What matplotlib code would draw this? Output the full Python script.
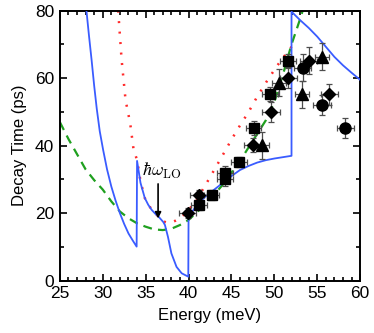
import numpy as np
import matplotlib
matplotlib.use("Agg")
import matplotlib.pyplot as plt
from matplotlib.ticker import MultipleLocator

plt.rcParams['font.family'] = ['Liberation Sans', 'DejaVu Sans']
plt.rcParams['mathtext.fontset'] = 'cm'

# blue theory curve (with jumps at 34, 40 and 52 meV)
blue_e = [28.1, 28.4, 28.7, 29.0, 29.3, 29.65, 30.05, 30.5, 31.0, 31.5, 32.0, 32.5, 33.0, 33.5, 33.95,
          34.0, 34.4, 34.9, 35.3, 35.7, 36.1, 36.5, 37.05, 37.25, 37.6, 38.0, 38.6, 39.2, 39.97,
          40.0, 40.3, 41.0, 42.0, 43.0, 44.0, 45.0, 46.0, 47.0, 48.0, 49.0, 50.0, 51.0, 52.0,
          52.0, 53.0, 54.0, 55.0, 56.0, 57.0, 58.0, 59.0, 60.0]
blue_t = [80.0, 72.5, 65.4, 57.8, 51.0, 44.3, 38.7, 33.0, 27.9, 23.7, 20.0, 16.8, 14.0, 11.9, 10.1,
          35.5, 29.0, 24.5, 22.5, 21.0, 19.9, 19.0, 17.4, 16.5, 13.0, 8.1, 4.1, 2.2, 1.2,
          18.5, 20.0, 22.5, 25.0, 27.0, 29.0, 31.0, 32.8, 34.0, 35.0, 35.7, 36.2, 36.6, 37.0,
          79.7, 77.2, 74.9, 72.3, 69.3, 66.3, 63.8, 61.6, 59.5]

# red dotted curve
red_e = [31.8, 32.2, 32.66, 33.2, 33.6, 34.0, 34.4, 34.9, 35.7, 36.5, 37.05, 37.5, 38.0,
         38.5, 39.1, 39.8, 40.55, 41.3, 42.1, 43.1, 44.05, 45.0, 45.9, 47.0, 47.95, 49.1,
         50.3, 51.6, 52.0]
red_t = [80.0, 65.4, 53.5, 46.6, 38.7, 35.8, 29.5, 24.5, 21.0, 19.0, 17.6, 17.2, 17.3,
         17.8, 18.6, 20.5, 22.5, 25.5, 28.9, 33.3, 37.5, 41.8, 45.6, 50.0, 54.3, 59.0,
         63.6, 68.0, 69.3]

# green dashed curve
green_e = [25, 26, 27, 28, 29, 30, 31, 32, 33, 34, 35, 36, 37, 38, 39, 40, 41, 42, 43,
           44, 45, 46, 47, 48, 49, 50, 51, 52, 53, 53.3]
green_t = [47.0, 42.0, 37.5, 33.0, 29.8, 27.0, 23.5, 20.5, 18.5, 17.0, 16.0, 15.2, 15.0,
           15.4, 16.5, 18.0, 20.3, 23.0, 25.5, 28.5, 32.0, 35.5, 39.5, 43.5, 47.5, 53.0,
           61.0, 70.0, 77.5, 80.0]

# measured points
sq_e = [41.2, 42.7, 44.25, 44.25, 45.9, 47.6, 49.5, 51.6]
sq_t = [22.4, 25.4, 30.0, 32.0, 35.1, 45.2, 55.3, 65.2]
sq_yerr = [1.5, 1.5, 2.0, 2.0, 1.5, 2.0, 2.0, 2.0]

di_e = [39.9, 41.2, 47.5, 49.6, 51.6, 54.0, 56.4]
di_t = [20.1, 25.5, 40.2, 50.0, 60.1, 65.2, 55.2]
di_yerr = [1.5, 1.5, 2.0, 3.0, 3.0, 4.0, 3.0]

tr_e = [48.6, 50.55, 53.2, 55.55]
tr_t = [40.2, 58.6, 55.3, 66.4]
tr_yerr = [4.0, 4.0, 4.0, 4.0]

ci_e = [53.3, 55.55, 58.25]
ci_t = [63.1, 52.1, 45.2]
ci_yerr = [4.0, 3.0, 3.0]

fig = plt.figure(figsize=(3.74, 3.33), dpi=100)
ax = fig.add_axes([0.160, 0.157, 0.803, 0.811])

ax.plot(green_e, green_t, color='#1fa01f', lw=1.6, ls=(0, (4, 2.8)), zorder=2)
ax.plot(red_e, red_t, color='#ff2a2a', lw=1.8, ls=(0, (0.8, 3.4)), zorder=2)
ax.plot(blue_e, blue_t, color='#3a5cff', lw=1.3, zorder=3)

ebar = dict(ecolor='0.3', elinewidth=0.9, capsize=2.5, capthick=0.9, ls='none',
            mfc='black', mec='black', zorder=4)
ax.errorbar(sq_e, sq_t, xerr=0.9, yerr=sq_yerr, marker='s', ms=7, **ebar)
ax.errorbar(di_e, di_t, xerr=1.0, yerr=di_yerr, marker='D', ms=6.5, **ebar)
ax.errorbar(tr_e, tr_t, xerr=0.8, yerr=tr_yerr, marker='^', ms=8.5, **ebar)
ax.errorbar(ci_e, ci_t, xerr=1.0, yerr=ci_yerr, marker='o', ms=8, **ebar)

ax.annotate('', xy=(36.45, 17.6), xytext=(36.45, 29.5),
            arrowprops=dict(arrowstyle='-|>', color='black', lw=1.2, mutation_scale=9))
ax.text(36.9, 32.5, r'$\hbar\omega_{\mathrm{LO}}$', fontsize=13, ha='center', va='center')

ax.set_xlim(25, 60)
ax.set_ylim(0, 80)
ax.xaxis.set_major_locator(MultipleLocator(5))
ax.xaxis.set_minor_locator(MultipleLocator(1))
ax.yaxis.set_major_locator(MultipleLocator(20))
ax.yaxis.set_minor_locator(MultipleLocator(10))
ax.tick_params(which='both', direction='in', top=True, right=True, width=1.2,
               labelsize=12.5, pad=4)
ax.tick_params(which='major', length=5)
ax.tick_params(which='minor', length=3)
for s in ax.spines.values():
    s.set_linewidth(1.4)

ax.set_xlabel('Energy (meV)', fontsize=12, labelpad=5)
ax.set_ylabel('Decay Time (ps)', fontsize=12, labelpad=6)

fig.savefig('out.png', dpi=100)
